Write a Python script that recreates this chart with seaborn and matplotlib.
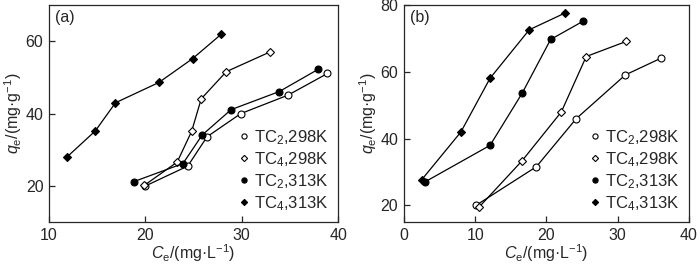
import numpy as np
import pandas as pd
import matplotlib
matplotlib.use("Agg")
import matplotlib.pyplot as plt
from matplotlib.lines import Line2D
import seaborn as sns

# panel (a)
a_tc2_298_x = [20.0, 24.4, 26.4, 29.9, 34.8, 38.9]
a_tc2_298_y = [20.0, 25.5, 33.6, 40.0, 45.1, 51.1]
a_tc4_298_x = [19.9, 23.3, 24.8, 25.8, 28.4, 32.9]
a_tc4_298_y = [20.2, 26.6, 35.1, 44.1, 51.6, 57.0]
a_tc2_313_x = [18.8, 23.9, 25.9, 28.9, 33.9, 37.9]
a_tc2_313_y = [21.2, 26.2, 34.1, 41.1, 46.1, 52.2]
a_tc4_313_x = [11.9, 14.8, 16.9, 21.4, 24.9, 27.9]
a_tc4_313_y = [28.1, 35.2, 43.0, 48.6, 55.2, 62.0]

# panel (b)
b_tc2_298_x = [10.1, 18.6, 24.2, 31.1, 36.1]
b_tc2_298_y = [20.0, 31.6, 46.0, 59.1, 64.1]
b_tc4_298_x = [10.6, 16.6, 22.1, 25.6, 31.2]
b_tc4_298_y = [19.6, 33.4, 48.0, 64.6, 69.1]
b_tc2_313_x = [3.0, 12.1, 16.6, 20.6, 25.1]
b_tc2_313_y = [27.1, 38.0, 53.6, 69.7, 75.1]
b_tc4_313_x = [2.5, 8.0, 12.1, 17.6, 22.6]
b_tc4_313_y = [27.7, 42.0, 58.1, 72.6, 77.6]

labels = ["TC$_2$,298K", "TC$_4$,298K", "TC$_2$,313K", "TC$_4$,313K"]
markers = ["o", "D", "o", "D"]
faces = ["white", "white", "black", "black"]
sizes = [5, 4.2, 5, 4.2]

sns.set_style("ticks")
plt.rcParams['font.family'] = ['Liberation Sans', 'DejaVu Sans']
plt.rcParams['mathtext.fontset'] = 'custom'
plt.rcParams['mathtext.rm'] = 'Liberation Sans'
plt.rcParams['mathtext.it'] = 'Liberation Sans:italic'
plt.rcParams['font.size'] = 12

fig = plt.figure(figsize=(7, 2.67), dpi=100)
ax1 = fig.add_axes([0.07, 0.168, 0.413, 0.813])
ax2 = fig.add_axes([0.577, 0.168, 0.407, 0.813])

panels = [
    (ax1, [(a_tc2_298_x, a_tc2_298_y), (a_tc4_298_x, a_tc4_298_y),
           (a_tc2_313_x, a_tc2_313_y), (a_tc4_313_x, a_tc4_313_y)],
     (10, 40), (10, 70), [20, 40, 60], "(a)"),
    (ax2, [(b_tc2_298_x, b_tc2_298_y), (b_tc4_298_x, b_tc4_298_y),
           (b_tc2_313_x, b_tc2_313_y), (b_tc4_313_x, b_tc4_313_y)],
     (0, 40), (15, 80), [20, 40, 60, 80], "(b)"),
]

for ax, series, xlim, ylim, yticks, tag in panels:
    for (x, y), lab, m, fc, ms in zip(series, labels, markers, faces, sizes):
        df = pd.DataFrame({"Ce": x, "qe": y})
        sns.lineplot(data=df, x="Ce", y="qe", sort=False, ax=ax, color="black",
                     lw=0.9, marker=m, markersize=ms, markerfacecolor=fc,
                     markeredgecolor="black", markeredgewidth=0.8)
    ax.set_xlim(*xlim)
    ax.set_ylim(*ylim)
    ax.set_xticks([10, 20, 30, 40] if xlim[0] == 10 else [0, 10, 20, 30, 40])
    ax.set_yticks(yticks)
    ax.tick_params(direction="in", length=4, width=0.9, labelsize=11.5, pad=4)
    for s in ax.spines.values():
        s.set_linewidth(0.9)
    ax.set_xlabel(r"$C_\mathrm{e}$/(mg·L$^{-1}$)", fontsize=11.5, labelpad=0)
    ax.set_ylabel(r"$q_\mathrm{e}$/(mg·g$^{-1}$)", fontsize=11.5, labelpad=1)
    ax.text(0.02, 0.975, tag, transform=ax.transAxes, ha="left", va="top", fontsize=11.5)

    handles = [Line2D([], [], ls="none", marker=m, markersize=ms * 0.75,
                      markerfacecolor=fc, markeredgecolor="black", markeredgewidth=0.8)
               for m, fc, ms in zip(markers, faces, sizes)]
    ax.legend(handles, labels, loc="lower right", frameon=False, fontsize=12,
              handlelength=0.5, handletextpad=0.35, labelspacing=0.2,
              borderaxespad=0.15)

fig.savefig("out.png", dpi=100)
